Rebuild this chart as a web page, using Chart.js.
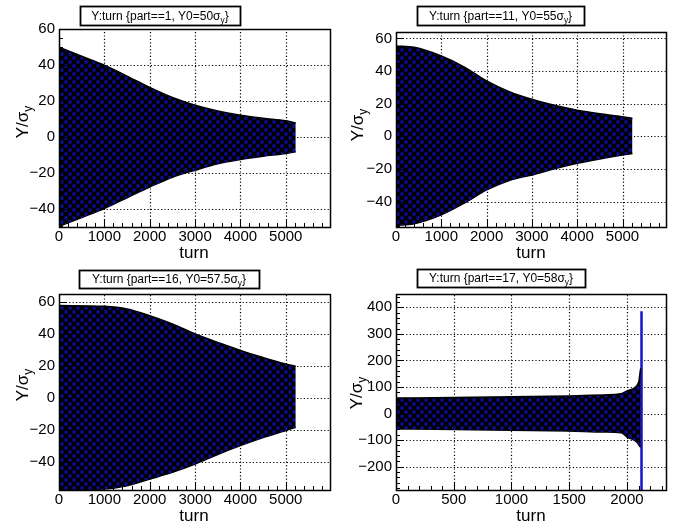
<!DOCTYPE html>
<html><head><meta charset="utf-8">
<script src="https://cdn.jsdelivr.net/npm/chart.js@4.4.1/dist/chart.umd.min.js"></script>
<style>
html,body{margin:0;padding:0;background:#fff;}
#wrap{position:relative;width:689px;height:525px;overflow:hidden;}
canvas{position:absolute;}
</style></head><body><div id="wrap">
<canvas id="c1" width="344" height="262" style="left:0;top:0"></canvas>
<canvas id="c2" width="345" height="262" style="left:344px;top:0"></canvas>
<canvas id="c3" width="344" height="263" style="left:0;top:262px"></canvas>
<canvas id="c4" width="345" height="263" style="left:344px;top:262px"></canvas>
</div>
<script>
// ---- data (envelope of Y/sigma_y vs turn) ----
const titles = ["Y:turn {part==1, Y0=50σ", "Y:turn {part==11, Y0=55σ", "Y:turn {part==16, Y0=57.5σ", "Y:turn {part==17, Y0=58σ"];

const turns1 = [0, 500, 1000, 1500, 2000, 2500, 3000, 3500, 4000, 4500, 5000, 5220];
const upper1 = [50, 45, 40, 33.9, 27.6, 22, 17.7, 14.5, 12.1, 10.4, 9, 7.8];
const lower1 = [-50, -45, -40, -34, -28, -22.5, -18.6, -15, -12.6, -10.8, -9.3, -8.3];

const turns2 = [0, 400, 1000, 1500, 2000, 2500, 3000, 3500, 4000, 4500, 5000, 5220];
const upper2 = [55.3, 54.5, 49.2, 42.6, 34, 27.4, 22.7, 19, 16, 13.8, 12, 11];
const lower2 = [-54.5, -53.5, -48, -41, -32.8, -27, -23.6, -19.8, -16.5, -13.8, -11.4, -10.5];

const turns3 = [0, 1000, 1500, 2000, 2500, 3000, 3500, 4000, 4500, 5000, 5220];
const upper3 = [57.5, 57, 55.4, 51.2, 46, 39.8, 34.5, 29.4, 25, 21, 19.6];
const lower3 = [-57.5, -57, -55, -50.9, -46.7, -41.5, -35.5, -30, -25, -20.6, -18.5];

const turns4 = [0, 500, 1000, 1500, 1800, 1950, 2000, 2060, 2090, 2105, 2115, 2120];
const upper4 = [58, 60, 63, 66, 70, 74, 85, 95, 108, 125, 160, 170];
const lower4 = [-58, -60, -63, -66, -70, -72, -89, -100, -110, -120, -125, -125];
const spikeTurns4 = [2126, 2126];
const spikeY4 = [385, -350];

const xTicksA = [0, 1000, 2000, 3000, 4000, 5000];
const xTicksB = [0, 500, 1000, 1500, 2000];
const yTicks1 = [-40, -20, 0, 20, 40, 60];
const yTicks4 = [-200, -100, 0, 100, 200, 300, 400];

// ---- styling helpers ----
const FONT = "'Liberation Sans', Arial, Helvetica, sans-serif";
function fmt(v){ return v < 0 ? '\u2212' + Math.abs(v) : String(v); }
function pts(xs, ys){ return xs.map((x, i) => ({x: x, y: ys[i]})); }

function makePattern(){
  const c = document.createElement('canvas');
  c.width = 8; c.height = 8;
  const g = c.getContext('2d');
  g.fillStyle = '#000'; g.fillRect(0, 0, 8, 8);
  g.fillStyle = 'rgb(12,12,150)';
  g.beginPath(); g.ellipse(2, 2, 1.8, 2.1, 0, 0, Math.PI * 2); g.fill();
  g.beginPath(); g.ellipse(6, 6, 1.8, 2.1, 0, 0, Math.PI * 2); g.fill();
  return document.createElement('canvas').getContext('2d').createPattern(c, 'repeat');
}
const pattern = makePattern();

const rootPlugin = {
  id: 'root',
  beforeDatasetsDraw(chart, args, o){
    const {ctx, chartArea: a, scales: {x, y}} = chart;
    ctx.save();
    ctx.strokeStyle = '#000'; ctx.lineWidth = 1.2; ctx.setLineDash([1.2, 2.2]);
    for (const v of o.xt){
      const px = Math.round(x.getPixelForValue(v)) + 0.5;
      if (px <= a.left + 1 || px >= a.right - 1) continue;
      ctx.beginPath(); ctx.moveTo(px, a.bottom); ctx.lineTo(px, a.top); ctx.stroke();
    }
    for (const v of o.yt){
      const py = Math.round(y.getPixelForValue(v)) + 0.5;
      if (py <= a.top + 1 || py >= a.bottom - 1) continue;
      ctx.beginPath(); ctx.moveTo(a.left, py); ctx.lineTo(a.right, py); ctx.stroke();
    }
    ctx.restore();
  },
  afterDatasetsDraw(chart, args, o){
    const {ctx, chartArea: a, scales: {x, y}} = chart;
    ctx.save();
    ctx.strokeStyle = '#000'; ctx.lineWidth = 1; ctx.setLineDash([]);
    const dx = (o.xt[1] - o.xt[0]) / o.xsub;
    for (let v = o.xt[0] - dx * o.xsub; v <= x.max; v += dx){
      if (v < x.min) continue;
      const px = Math.round(x.getPixelForValue(v)) + 0.5;
      const q = (v - o.xt[0]) / (dx * o.xsub);
      const major = Math.abs(q - Math.round(q)) < 1e-6;
      const len = major ? 8 : 4;
      ctx.beginPath(); ctx.moveTo(px, a.bottom); ctx.lineTo(px, a.bottom - len); ctx.stroke();
    }
    const dy = (o.yt[1] - o.yt[0]) / o.ysub;
    for (let v = o.yt[0] - dy * o.ysub * 3; v <= y.max; v += dy){
      if (v < y.min) continue;
      const py = Math.round(y.getPixelForValue(v)) + 0.5;
      const q = (v - o.yt[0]) / (dy * o.ysub);
      const major = Math.abs(q - Math.round(q)) < 1e-6;
      const len = major ? 8 : 4;
      ctx.beginPath(); ctx.moveTo(a.left, py); ctx.lineTo(a.left + len, py); ctx.stroke();
    }
    ctx.lineWidth = 1.5;
    ctx.strokeRect(Math.round(a.left) + 0.5, Math.round(a.top) + 0.5, Math.round(a.right - a.left), Math.round(a.bottom - a.top));
    ctx.restore();
  },
  afterDraw(chart, args, o){
    const {ctx} = chart;
    ctx.save();
    ctx.fillStyle = '#fff';
    ctx.fillRect(o.box[0], o.box[1], o.box[2], o.box[3]);
    ctx.strokeStyle = '#000'; ctx.lineWidth = 1.8;
    ctx.strokeRect(o.box[0] + 0.5, o.box[1] + 0.5, o.box[2], o.box[3]);
    ctx.fillStyle = '#000';
    const fs = 12;
    const main = o.title, sub = 'y', tail = '}';
    ctx.font = fs + 'px ' + FONT; const w1 = ctx.measureText(main).width;
    ctx.font = (fs * 0.7) + 'px ' + FONT; const w2 = ctx.measureText(sub).width;
    ctx.font = fs + 'px ' + FONT; const w3 = ctx.measureText(tail).width;
    let tx = o.box[0] + o.box[2] / 2 - (w1 + w2 + w3) / 2;
    const ty = o.box[1] + o.box[3] / 2 + 4;
    ctx.textBaseline = 'alphabetic'; ctx.textAlign = 'left';
    ctx.fillText(main, tx, ty); tx += w1;
    ctx.font = (fs * 0.7) + 'px ' + FONT; ctx.fillText(sub, tx, ty + 3); tx += w2;
    ctx.font = fs + 'px ' + FONT; ctx.fillText(tail, tx, ty);
    ctx.font = '17px ' + FONT; ctx.textAlign = 'center'; ctx.textBaseline = 'alphabetic';
    ctx.fillText('turn', o.xt_pos[0], o.xt_pos[1]);
    ctx.translate(o.yt_pos[0], o.yt_pos[1]);
    ctx.rotate(-Math.PI / 2);
    ctx.font = '17px ' + FONT;
    const a1 = 'Y/σ'; const wa = ctx.measureText(a1).width;
    ctx.font = '12px ' + FONT; const wb = ctx.measureText('y').width;
    ctx.textAlign = 'left';
    let sx = -(wa + wb) / 2;
    ctx.font = '17px ' + FONT; ctx.fillText(a1, sx, 6);
    ctx.font = '12px ' + FONT; ctx.fillText('y', sx + wa, 10);
    ctx.restore();
  }
};

function build(id, p){
  const datasets = [
    {data: pts(p.turns, p.upper), borderColor: '#000', borderWidth: 1.5, pointRadius: 0, fill: '+1', backgroundColor: pattern, cubicInterpolationMode: 'monotone'},
    {data: pts(p.turns, p.lower), borderColor: '#000', borderWidth: 1.5, pointRadius: 0, fill: false, cubicInterpolationMode: 'monotone'}
  ];
  if (p.spikeX){
    datasets.push({data: pts(p.spikeX, p.spikeY), borderColor: 'rgb(20,20,200)', borderWidth: 2.5, pointRadius: 0, fill: false});
  }
  new Chart(document.getElementById(id), {
    type: 'line',
    data: {datasets: datasets},
    options: {
      responsive: false, animation: false, events: [],
      layout: {padding: {top: p.area.top, right: p.area.right, left: 0, bottom: 0}},
      plugins: {legend: {display: false}, tooltip: {enabled: false},
        root: {xt: p.xt, yt: p.yt, xsub: p.xsub, ysub: p.ysub, title: p.title, box: p.box, xt_pos: p.xtPos, yt_pos: p.ytPos}},
      scales: {
        x: {type: 'linear', min: p.xr[0], max: p.xr[1],
          afterBuildTicks: s => { s.ticks = p.xt.map(v => ({value: v})); },
          afterFit: s => { s.height = p.area.xh; },
          grid: {display: false, drawTicks: false}, border: {display: false},
          ticks: {font: {family: FONT, size: 15}, color: '#000', padding: 1, maxRotation: 0, autoSkip: false, callback: v => fmt(v)}},
        y: {type: 'linear', min: p.yr[0], max: p.yr[1],
          afterBuildTicks: s => { s.ticks = p.yt.map(v => ({value: v})); },
          afterFit: s => { s.width = p.area.yw; },
          grid: {display: false, drawTicks: false}, border: {display: false},
          ticks: {font: {family: FONT, size: 15}, color: '#000', padding: 4, autoSkip: false, callback: v => fmt(v)}}
      }
    },
    plugins: [rootPlugin]
  });
}

build('c1', {turns: turns1, upper: upper1, lower: lower1, xt: xTicksA, yt: yTicks1, xsub: 5, ysub: 4,
  xr: [0, 5975], yr: [-50.3, 60.2], area: {top: 29, right: 14, xh: 35, yw: 59},
  title: titles[0], box: [80, 6, 160, 19], xtPos: [194, 258], ytPos: [22, 122]});
build('c2', {turns: turns2, upper: upper2, lower: lower2, xt: xTicksA, yt: yTicks1, xsub: 5, ysub: 4,
  xr: [0, 5960], yr: [-55.5, 63.9], area: {top: 32, right: 23, xh: 35, yw: 52},
  title: titles[1], box: [73, 6, 167, 19], xtPos: [187, 258], ytPos: [13, 125]});
build('c3', {turns: turns3, upper: upper3, lower: lower3, xt: xTicksA, yt: yTicks1, xsub: 5, ysub: 4,
  xr: [0, 5975], yr: [-57.7, 64.7], area: {top: 32, right: 14, xh: 35, yw: 59},
  title: titles[2], box: [79, 8, 180, 18], xtPos: [194, 259], ytPos: [22, 123]});
build('c4', {turns: turns4, upper: upper4, lower: lower4, spikeX: spikeTurns4, spikeY: spikeY4, xt: xTicksB, yt: yTicks4, xsub: 5, ysub: 5,
  xr: [0, 2338], yr: [-288, 450], area: {top: 32, right: 23, xh: 35, yw: 52},
  title: titles[3], box: [73, 7, 168, 18], xtPos: [187, 259], ytPos: [12, 131]});
</script>
</body></html>
